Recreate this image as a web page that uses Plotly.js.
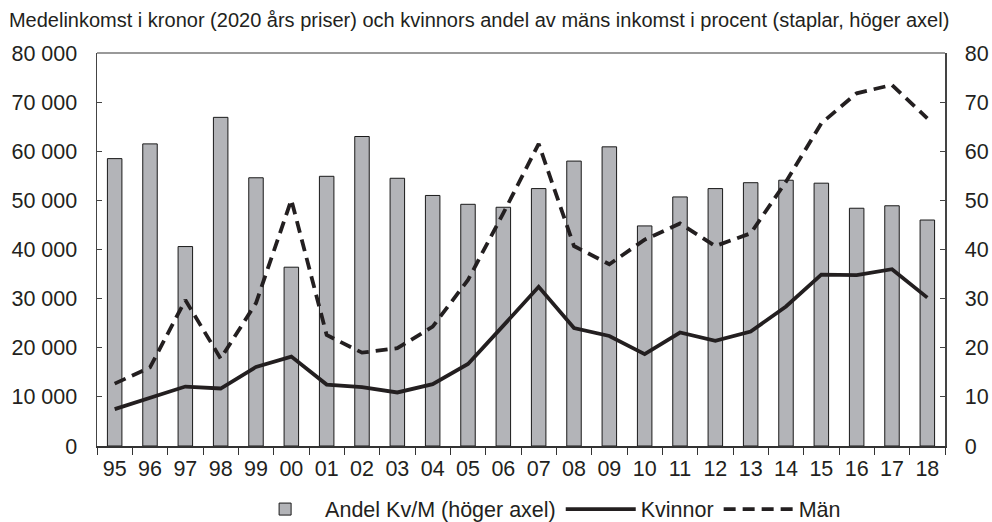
<!DOCTYPE html>
<html>
<head>
<meta charset="utf-8">
<script src="https://cdn.plot.ly/plotly-3.0.1.min.js"></script>
<style>
html,body{margin:0;padding:0;background:#fff;}
#chart{width:992px;height:522px;}
</style>
</head>
<body>
<div id="chart"></div>
<script>
const years = ["95","96","97","98","99","00","01","02","03","04","05","06","07","08","09","10","11","12","13","14","15","16","17","18"];
const andelKvM = [58.5,61.5,40.6,66.9,54.6,36.4,54.9,63.0,54.5,51.0,49.2,48.6,52.4,58.0,60.9,44.8,50.7,52.4,53.6,54.1,53.5,48.4,48.9,46.0];
const kvinnor = [7500,9900,12100,11700,16100,18200,12500,12000,10900,12600,16700,24500,32400,24000,22400,18700,23100,21400,23300,28400,34900,34800,36000,30200];
const man = [12700,16000,29700,17800,29100,50100,22600,19000,19900,24300,33800,47400,61500,40700,37000,42000,45300,40700,43300,53800,65700,71800,73500,66700];

const txt = '#231f20';
const traces = [
  {type:'bar', name:'Andel Kv/M (höger axel)', x:years, y:andelKvM, yaxis:'y',
   marker:{color:'#b3b4b8', line:{color:'#1a1a1a', width:1}}},
  {type:'scatter', mode:'lines', name:'Kvinnor', x:years, y:kvinnor, yaxis:'y2',
   line:{color:'#231f20', width:3.8}},
  {type:'scatter', mode:'lines', name:'Män', x:years, y:man, yaxis:'y2',
   line:{color:'#231f20', width:3.8, dash:'12px,7px'}}
];

const layout = {
  width:992, height:522,
  margin:{l:97, r:47, t:53, b:76},
  paper_bgcolor:'#fff', plot_bgcolor:'#fff',
  font:{family:'Liberation Sans, Arial, sans-serif', color:txt, size:21},
  separators:', ',
  showlegend:true,
  bargap:0.59,
  title:{text:'Medelinkomst i kronor (2020 års priser) och kvinnors andel av mäns inkomst i procent (staplar, höger axel)',
         x:0.009, xref:'container', xanchor:'left', y:0.961, yref:'container', yanchor:'middle',
         font:{size:20, color:txt}},
  xaxis:{type:'category', tickson:'boundaries', ticks:'outside', ticklen:7, tickcolor:'#333',
         showline:true, linecolor:'#333', linewidth:1.5, mirror:false, showgrid:false,
         tickfont:{size:21.5}, ticklabelstandoff:3},
  yaxis:{side:'right', range:[0,80], dtick:10, showgrid:false, zeroline:false,
         showline:true, linecolor:'#444', linewidth:1.5, ticks:'inside', ticklen:5, tickcolor:'#444',
         tickfont:{size:21.5}, ticklabelstandoff:14},
  yaxis2:{side:'left', overlaying:'y', range:[0,80000], dtick:10000, tickformat:',d', showgrid:false, zeroline:false,
          showline:true, linecolor:'#444', linewidth:1.5, ticks:'inside', ticklen:5, tickcolor:'#444',
          tickfont:{size:21.5}, ticklabelstandoff:14},
  shapes:[{type:'line', xref:'paper', yref:'paper', x0:0, x1:1, y0:1, y1:1, line:{color:'#777', width:1.5}}],
  legend:{orientation:'h', x:0.55, xref:'container', xanchor:'center', y:0.064, yref:'container', yanchor:'top',
          font:{size:21.5, color:txt}, itemwidth:70, tracegroupgap:0, bgcolor:'rgba(0,0,0,0)'}
};

Plotly.newPlot('chart', traces, layout, {displayModeBar:false, staticPlot:true});
</script>
</body>
</html>
